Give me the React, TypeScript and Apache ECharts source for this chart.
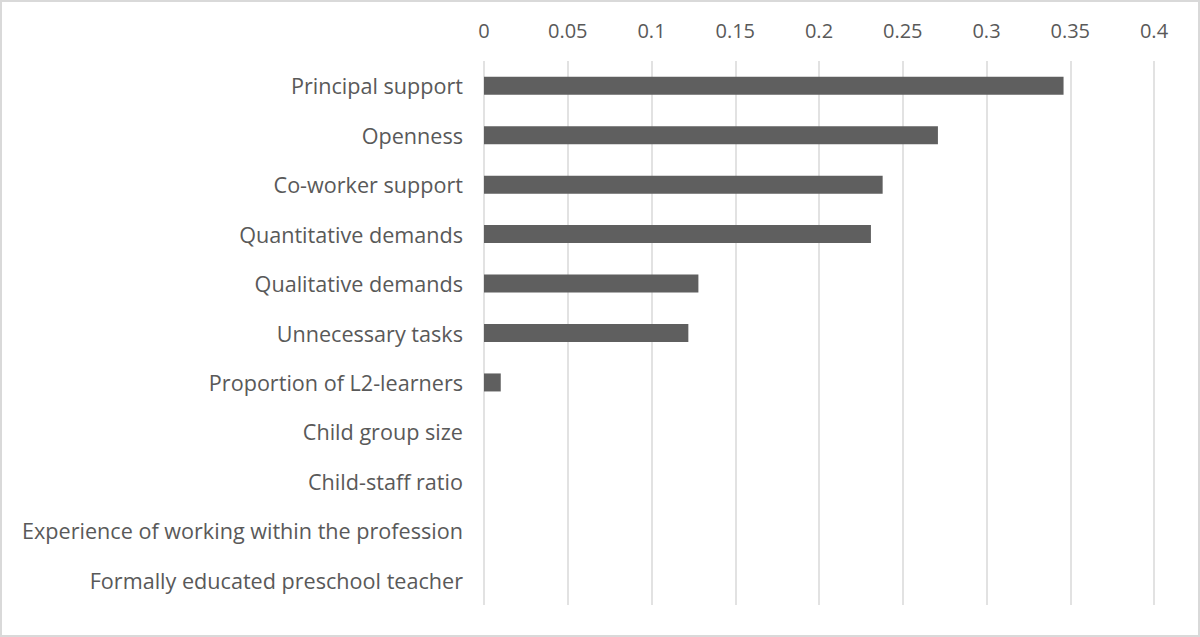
import * as echarts from "echarts";
import { useEffect, useRef } from "react";

const categories = [
  "Principal support",
  "Openness",
  "Co-worker support",
  "Quantitative demands",
  "Qualitative demands",
  "Unnecessary tasks",
  "Proportion of L2-learners",
  "Child group size",
  "Child-staff ratio",
  "Experience of working within the profession",
  "Formally educated preschool teacher",
];
const values = [0.346, 0.271, 0.238, 0.231, 0.128, 0.122, 0.01, 0, 0, 0, 0];
const xMin = 0;
const xMax = 0.4;
const xStep = 0.05;

export default function App() {
  const chartRef = useRef<HTMLDivElement>(null);
  useEffect(() => {
    document.body.style.margin = "0";
    const chart = echarts.init(chartRef.current, undefined, { renderer: "svg" });
    chart.setOption({
      animation: false,
      textStyle: { fontFamily: "Open Sans" },
      grid: { left: 482, right: 44, top: 59, bottom: 30 },
      xAxis: {
        type: "value",
        position: "top",
        min: xMin,
        max: xMax,
        interval: xStep,
        axisLine: { show: false },
        axisTick: { show: false },
        axisLabel: {
          color: "#595959",
          fontSize: 20,
          margin: 21,
          formatter: (v: number) => String(Number(v.toFixed(2))),
        },
        splitLine: { lineStyle: { color: "#d9d9d9", width: 1.5 } },
      },
      yAxis: {
        type: "category",
        data: categories,
        inverse: true,
        axisLine: { show: false },
        axisTick: { show: false },
        axisLabel: { color: "#595959", fontSize: 21.6, margin: 21 },
      },
      series: [
        {
          type: "bar",
          data: values,
          barWidth: 18,
          itemStyle: { color: "#5f5f5f" },
        },
      ],
    });
    return () => {
      chart.dispose();
    };
  }, []);
  return (
    <div
      ref={chartRef}
      style={{
        width: 1200,
        height: 637,
        boxSizing: "border-box",
        border: "2px solid #d9d9d9",
      }}
    />
  );
}
